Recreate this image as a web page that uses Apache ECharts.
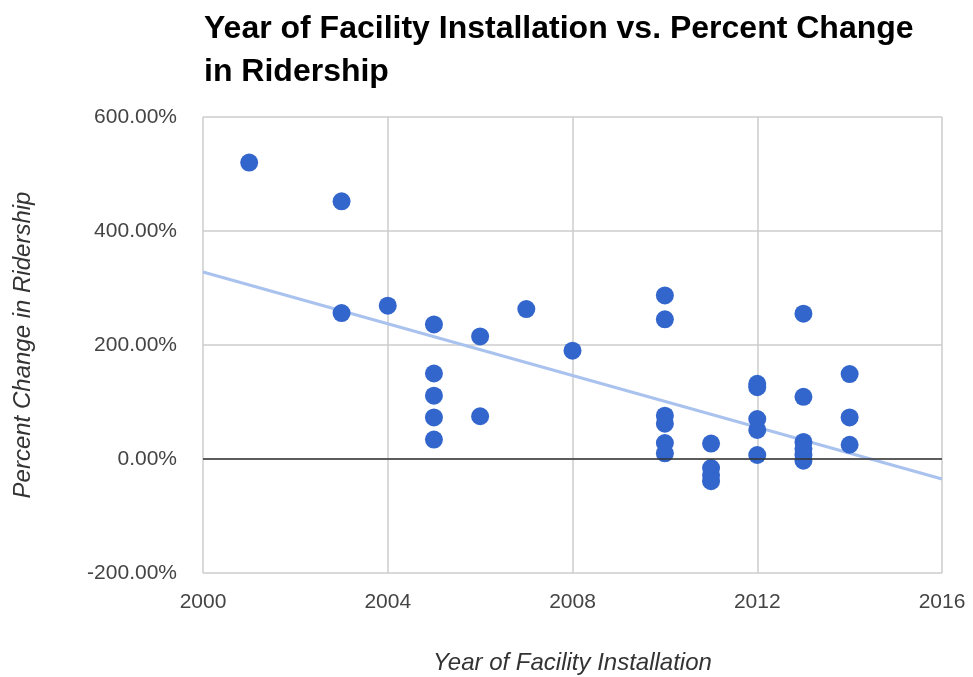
<!DOCTYPE html>
<html>
<head>
<meta charset="utf-8">
<script src="https://cdn.jsdelivr.net/npm/echarts@6/dist/echarts.min.js"></script>
<style>
  html, body { margin: 0; padding: 0; background: #fff; }
  #chart { width: 973px; height: 677px; }
</style>
</head>
<body>
<div id="chart"></div>
<script>
// year of installation, percent change
var years = [2001, 2003, 2003, 2004, 2005, 2005, 2005, 2005, 2005, 2006, 2006, 2007, 2008,
    2010, 2010, 2010, 2010, 2010, 2010, 2011, 2011, 2011, 2011,
    2012, 2012, 2012, 2012, 2012, 2013, 2013, 2013, 2013, 2013, 2013, 2014, 2014, 2014];
var pctChange = [520, 452, 256, 269, 236, 150, 111, 73, 34, 215, 75, 263, 190,
    287, 245, 76, 62, 28, 10, 27, -16, -28, -39,
    132, 126, 70, 51, 7, 255, 109, 30, 18, 7, -3, 149, 73, 25];

// trend line ends
var trendX = [2000, 2016];
var trendY = [328, -35];

var yTicks = [-200, 0, 200, 400, 600];
var xTicks = [2000, 2004, 2008, 2012, 2016];

var points = [];
for (var i = 0; i < years.length; i++) {
    points.push([years[i], pctChange[i]]);
}
var trend = [];
for (var j = 0; j < trendX.length; j++) {
    trend.push([trendX[j], trendY[j]]);
}

var myChart = echarts.init(document.getElementById('chart'));

var option = {
    animation: false,
    title: {
        text: 'Year of Facility Installation vs. Percent Change\nin Ridership',
        left: 199,
        top: 3,
        textStyle: {
            fontFamily: 'Liberation Sans',
            fontWeight: 'bold',
            fontSize: 32,
            lineHeight: 43,
            color: '#000'
        }
    },
    grid: { left: 203, top: 117, right: 31, bottom: 104, outerBoundsMode: 'none' },
    xAxis: {
        type: 'value',
        min: xTicks[0],
        max: xTicks[xTicks.length - 1],
        interval: 4,
        name: 'Year of Facility Installation',
        nameLocation: 'middle',
        nameGap: 78,
        nameTextStyle: { fontFamily: 'Liberation Sans', fontStyle: 'italic', fontSize: 24, color: '#333' },
        axisLine: { show: false },
        axisTick: { show: false },
        axisLabel: {
            fontFamily: 'Liberation Sans', fontSize: 21, color: '#444', margin: 19,
            formatter: function (v) { return String(v); }
        },
        splitLine: { lineStyle: { color: '#cccccc', width: 1.5 } }
    },
    yAxis: {
        type: 'value',
        min: yTicks[0],
        max: yTicks[yTicks.length - 1],
        interval: 200,
        name: 'Percent Change in Ridership',
        nameLocation: 'middle',
        nameGap: 168,
        nameTextStyle: { fontFamily: 'Liberation Sans', fontStyle: 'italic', fontSize: 24, color: '#333' },
        axisLine: { show: false },
        axisTick: { show: false },
        axisLabel: {
            fontFamily: 'Liberation Sans', fontSize: 21, color: '#444', margin: 26,
            formatter: function (v) { return v.toFixed(2) + '%'; }
        },
        splitLine: { lineStyle: { color: '#cccccc', width: 1.5 } }
    },
    series: [{
        type: 'line',
        data: trend,
        symbol: 'none',
        lineStyle: { color: '#a9c2ee', width: 3 },
        z: 1
    }, {
        type: 'scatter',
        data: points,
        symbolSize: 18,
        itemStyle: { color: '#3366cc', opacity: 1 },
        z: 3,
        markLine: {
            silent: true,
            symbol: 'none',
            label: { show: false },
            lineStyle: { color: '#333', width: 1.5, type: 'solid' },
            data: [{ yAxis: 0 }]
        }
    }]
};

myChart.setOption(option);
</script>
</body>
</html>
